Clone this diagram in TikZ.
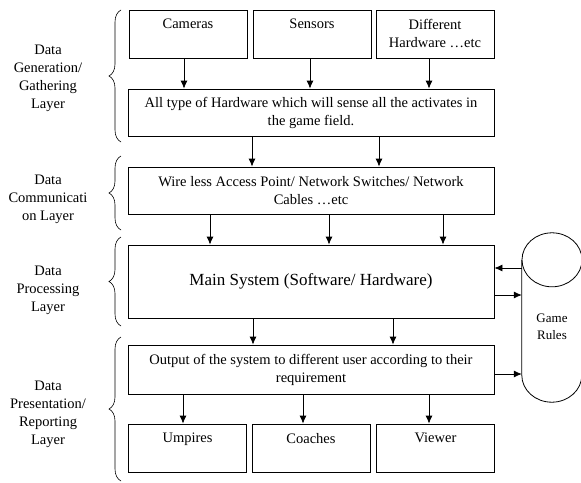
\documentclass[tikz,border=0pt]{standalone}
\usepackage{fontspec}
\setmainfont{Liberation Serif}
\usetikzlibrary{arrows.meta,decorations.pathreplacing}
\tikzset{
  box/.style={draw, line width=0.8pt, minimum width=366pt, inner sep=0pt, align=center, font=\fontsize{14.5}{18}\selectfont},
  small/.style={draw, line width=0.8pt, minimum width=118pt, minimum height=48pt, inner sep=0pt,
    label={[font=\fontsize{14.5}{18}\selectfont, align=center, anchor=north, yshift=-6pt]north:#1}},
  layer/.style={align=center, font=\fontsize{14.5}{18}\selectfont},
  arr/.style={-{Latex[length=8pt,width=7pt]}, line width=0.8pt},
  brace/.style={decorate, decoration={brace, amplitude=12pt}, line width=0.6pt}
}
\begin{document}
\begin{tikzpicture}[x=1pt, y=-1pt]
    \useasboundingbox (0,0) rectangle (581,482);

    % Layer labels
    \node[layer] (gen) at (48,78.5) {Data\\Generation/\\Gathering\\Layer};
    \node[layer] (com) at (48,199.5) {Data\\Communicati\\on Layer};
    \node[layer] (proc) at (48,290) {Data\\Processing\\Layer};
    \node[layer] (pres) at (48,414.5) {Data\\Presentation/\\Reporting\\Layer};

    % Braces
    \draw[brace] (121,142) -- (121,10);
    \draw[brace] (121,230) -- (121,156);
    \draw[brace] (121,326) -- (121,237);
    \draw[brace] (121,481) -- (121,337);

    % Data generation
    \node[small=Cameras] (cam) at (188,34) {};
    \node[small=Sensors] (sen) at (312,34) {};
    \node[small={Different\\Hardware \dots etc}] (diff) at (435,34) {};
    \node[box, minimum height=47pt] (hw) at (311,112.5)
        {All type of Hardware which will sense all the activates in\\the game field.};

    % Communication
    \node[box, minimum height=47pt] (comm) at (311,190.5)
        {Wire less Access Point/ Network Switches/ Network\\Cables \dots etc};

    % Processing
    \node[box, minimum height=73pt, font=\fontsize{17}{20}\selectfont] (main) at (311,281.5)
        {Main System (Software/ Hardware)};

    % Presentation
    \node[box, minimum height=49pt] (out) at (311,369.5)
        {Output of the system to different user according to their\\requirement};
    \node[small=Umpires] (ump) at (187.5,448) {};
    \node[small=Coaches] (coa) at (311,448) {};
    \node[small=Viewer] (view) at (435.5,448) {};

    % Game rules
    \node[minimum width=60pt, minimum height=169pt, inner sep=0pt,
        label={[font=\fontsize{13}{17}\selectfont, align=center, yshift=-9pt]center:Game\\Rules}] (gr) at (552,317.5) {};
    \draw[line width=0.8pt] ([yshift=-27pt]gr.north) ellipse [x radius=30pt, y radius=27pt];
    \draw[line width=0.8pt] ([yshift=-27pt]gr.north west) -- ([yshift=27pt]gr.south west)
        arc [start angle=180, end angle=360, x radius=30pt, y radius=27pt] -- ([yshift=-27pt]gr.north east);

    % Arrows
    \foreach \src/\dx in {cam/-127, sen/-1, diff/118}
        \draw[arr] ([xshift=\dx pt]hw.north |- \src.south) -- ([xshift=\dx pt]hw.north);
    \foreach \dx in {-59,68}
        \draw[arr] ([xshift=\dx pt]hw.south) -- ([xshift=\dx pt]comm.north);
    \foreach \dx in {-101,18,132}
        \draw[arr] ([xshift=\dx pt]comm.south) -- ([xshift=\dx pt]main.north);
    \foreach \dx in {-58,82}
        \draw[arr] ([xshift=\dx pt]main.south) -- ([xshift=\dx pt]out.north);
    \foreach \dst/\dx in {ump/-128, coa/-8, view/118}
        \draw[arr] ([xshift=\dx pt]out.south) -- ([xshift=\dx pt]out.south |- \dst.north);

    \draw[arr] ([yshift=13.5pt]main.east -| gr.west) -- ([yshift=13.5pt]main.east);
    \draw[arr] ([yshift=-13.5pt]main.east) -- ([yshift=-13.5pt]main.east -| gr.west);
    \draw[arr] ([yshift=-4.5pt]out.east) -- ([yshift=-4.5pt]out.east -| gr.west);
\end{tikzpicture}
\end{document}
